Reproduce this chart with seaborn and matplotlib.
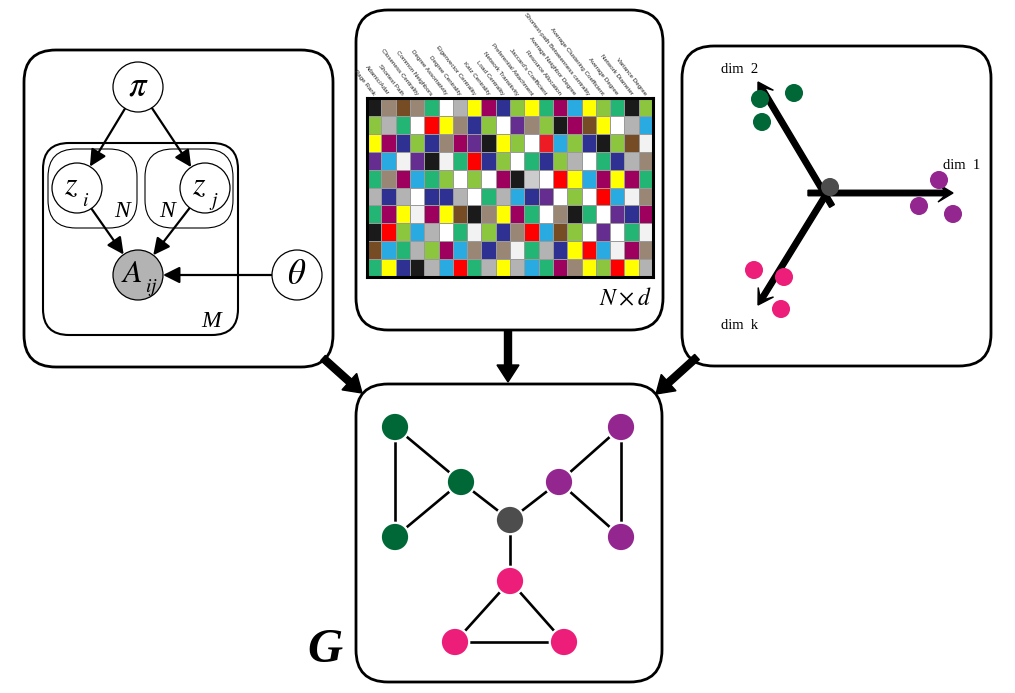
import numpy as np
import seaborn as sns
import matplotlib
matplotlib.use('Agg')
import matplotlib.pyplot as plt
from matplotlib.colors import ListedColormap
from matplotlib.patches import FancyBboxPatch, Circle

# feature matrix (N x d), one colour code per cell
features = ['Page Rank', 'Adamic/Adar', 'Shortest Path', 'Closeness Centrality',
            'Common Neighbors', 'Degree Assortativity', 'Degree Centrality',
            'Eigenvector Centrality', 'Katz Centrality', 'Load Centrality',
            'Network Transitivity', 'Preferential Attachment', "Jaccard's Coefficient",
            'Resource Allocation', 'Average Neighbor Degree',
            'Shortest-path Betweenness centrality', 'Average Clustering Coefficient',
            'Average Degree', 'Network Diameter', 'Variance Degree']
feature_rows = [
    'KTBTGWLYMNAYGMCYAGKA',
    'ALGWRYTNAWPTAKMBYWLC',
    'YMNANTMPKYAWQCANKABE',
    'PCEPKEGRNAWGNALWGNLT',
    'GTMCGAWAWMKSWRYCMYMG',
    'LNLWNNLWGLCNPWAWRCET',
    'GMYEMYBKTYMGWTKGWPNM',
    'KRACLWGEANTRCBAWPWGE',
    'BCGLAMCTNTEGLNYRCEMT',
    'GYNKLCRGLYLCGMTYARYL',
]
cell_colors = {'K': '#1a1a1a', 'T': '#998675', 'B': '#754c24', 'G': '#22b573',
               'W': '#ffffff', 'L': '#b3b3b3', 'Y': '#ffff00', 'M': '#9e005d',
               'N': '#2e3192', 'A': '#8cc63f', 'C': '#29abe2', 'R': '#ff0000',
               'P': '#662d91', 'E': '#f2f2f2', 'S': '#cccccc', 'Q': '#ed1c24'}

# the graph G
node_x = [395, 461, 395, 510, 559, 621, 621, 510, 455, 564]
node_y = [427, 482, 537, 520, 482, 427, 537, 581, 642, 642]
node_group = ['c1', 'c1', 'c1', 'hub', 'c2', 'c2', 'c2', 'c3', 'c3', 'c3']
graph_edges = [(0, 2), (0, 1), (1, 2), (1, 3), (3, 4), (4, 5), (4, 6), (5, 6),
               (3, 7), (7, 8), (7, 9), (8, 9)]

# embedding points
emb_x = [760, 794, 762, 939, 919, 953, 754, 784, 781, 830]
emb_y = [99, 93, 122, 180, 206, 214, 270, 277, 309, 187]
emb_group = ['c1'] * 3 + ['c2'] * 3 + ['c3'] * 3 + ['hub']

group_colors = {'c1': '#006837', 'c2': '#93278f', 'c3': '#ed1e79', 'hub': '#4d4d4d'}

# plate model nodes: symbol, subscript
pgm_nodes = {'pi': (138, 87), 'zi': (77, 188), 'zj': (205, 188),
             'A': (138, 275), 'theta': (297, 275)}
pgm_labels = {'pi': ('\\pi', ''), 'zi': ('z', 'i'), 'zj': ('z', 'j'),
              'A': ('A', 'ij'), 'theta': ('\\theta', '')}
pgm_edges = [('pi', 'zi'), ('pi', 'zj'), ('zi', 'A'), ('zj', 'A'), ('theta', 'A')]

plt.rcParams['mathtext.fontset'] = 'stix'
plt.rcParams['font.family'] = ['Liberation Serif', 'DejaVu Serif']

W, H = 1015, 693
fig = plt.figure(figsize=(W / 100, H / 100), dpi=100)
ax = fig.add_axes([0, 0, 1, 1])


def rbox(x0, y0, x1, y1, r, lw, fc='white'):
    ax.add_patch(FancyBboxPatch((x0, y0), x1 - x0, y1 - y0,
                                boxstyle=f'round,pad=0,rounding_size={r}',
                                fc=fc, ec='black', lw=lw, zorder=1))


# panels
rbox(24, 50, 333, 367, 32, 2.0)
rbox(356, 10, 663, 330, 32, 2.0)
rbox(682, 46, 991, 366, 32, 2.0)
rbox(356, 384, 662, 682, 32, 2.0)

# plates
rbox(43, 143, 238, 335, 26, 1.5, fc='none')
rbox(48, 149, 137, 228, 28, 0.8, fc='none')
rbox(145, 149, 233, 228, 28, 0.8, fc='none')
ax.text(122, 217, 'N', fontsize=17, style='italic', ha='center', va='baseline')
ax.text(167, 217, 'N', fontsize=17, style='italic', ha='center', va='baseline')
ax.text(211, 327, 'M', fontsize=17, style='italic', ha='center', va='baseline')

R = 25
for key, (cx, cy) in pgm_nodes.items():
    fc = '#b3b3b3' if key == 'A' else 'white'
    ax.add_patch(Circle((cx, cy), R, fc=fc, ec='black', lw=0.9, zorder=3))
    sym, sub = pgm_labels[key]
    if sub:
        ax.text(cx - 6, cy - 1, f'${sym}$', fontsize=23, ha='center', va='center', zorder=4)
        ax.text(cx + (13 if len(sub) > 1 else 9), cy + 13, f'${sub}$', fontsize=14,
                ha='center', va='center', zorder=4)
    else:
        ax.text(cx, cy, f'${sym}$', fontsize=25, ha='center', va='center', zorder=4)

for a, b in pgm_edges:
    p, q = np.array(pgm_nodes[a], float), np.array(pgm_nodes[b], float)
    d = (q - p) / np.linalg.norm(q - p)
    ax.annotate('', xy=q - d * R, xytext=p + d * R,
                arrowprops=dict(arrowstyle='-|>,head_length=0.5,head_width=0.25',
                                lw=1.6, color='black', shrinkA=0, shrinkB=0,
                                mutation_scale=20), zorder=2)

# embedding axes
akw = dict(width=5.5, head_width=18, head_length=15, overhang=0.45,
           length_includes_head=True, fc='black', ec='black', zorder=2)
ax.arrow(808, 193, 145, 0, **akw)
ax.arrow(832, 206, -74, -124, **akw)
ax.arrow(827, 193, -69, 112, **akw)
ax.text(740, 73, 'dim  2', fontsize=10.5, ha='center', va='baseline')
ax.text(962, 169, 'dim  1', fontsize=10.5, ha='center', va='baseline')
ax.text(740, 329, 'dim  k', fontsize=10.5, ha='center', va='baseline')
sns.scatterplot(x=emb_x, y=emb_y, hue=emb_group, palette=group_colors, s=169,
                linewidth=0, legend=False, ax=ax, zorder=4)

# graph
for i, j in graph_edges:
    ax.plot([node_x[i], node_x[j]], [node_y[i], node_y[j]], color='black',
            lw=1.9, zorder=2, solid_capstyle='butt')
sns.scatterplot(x=node_x, y=node_y, hue=node_group, palette=group_colors, s=420,
                edgecolor='white', linewidth=1.6, legend=False, ax=ax, zorder=3)
ax.text(325, 662, 'G', fontsize=35, style='italic', weight='bold',
        ha='center', va='baseline')

# thick arrows into G
bkw = dict(width=7, head_width=22, head_length=17, length_includes_head=True,
           fc='black', ec='black', zorder=5)
ax.arrow(323, 358, 39, 35, **bkw)
ax.arrow(508, 330, 0, 52, **bkw)
ax.arrow(697, 357, -41, 37, **bkw)

ax.text(625, 305, r'$N \times d$', fontsize=17, ha='center', va='baseline')

ax.set_xlim(0, W)
ax.set_ylim(H, 0)
ax.axis('off')

# feature matrix heatmap
codes = list(cell_colors.keys())
mat = np.array([[codes.index(c) for c in row] for row in feature_rows])
cmap = ListedColormap([cell_colors[c] for c in codes])
hx0, hx1, hy0, hy1 = 367, 653, 98, 277
hax = fig.add_axes([hx0 / W, 1 - hy1 / H, (hx1 - hx0) / W, (hy1 - hy0) / H])
sns.heatmap(mat, ax=hax, cmap=cmap, vmin=-0.5, vmax=len(codes) - 0.5, cbar=False,
            linewidths=0.4, linecolor='#9a9a9a', xticklabels=features,
            yticklabels=False)
for s in hax.spines.values():
    s.set_visible(True)
    s.set_linewidth(2.2)
    s.set_color('black')
hax.xaxis.tick_top()
hax.tick_params(axis='x', length=0, pad=2.5, labelsize=4.5)
plt.setp(hax.get_xticklabels(), rotation=-52, ha='right', va='center',
         rotation_mode='anchor', family='Liberation Sans', color='#222222')

fig.savefig('out.png', dpi=100)
